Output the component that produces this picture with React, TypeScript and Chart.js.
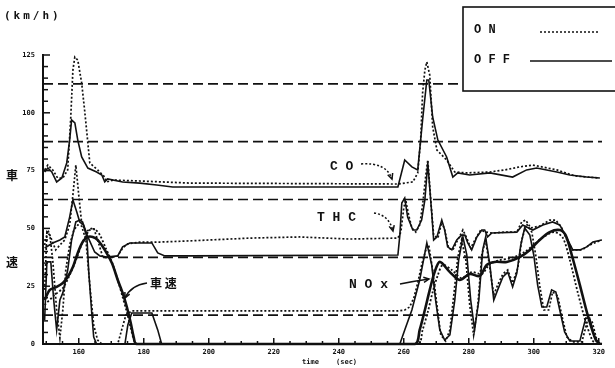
import React, { useEffect, useRef } from 'react';
import { Chart, registerables } from 'chart.js';

Chart.register(...registerables);

type P = [number, number];

// time axis (sec) and speed axis (km/h)
const X_MIN = 149;
const X_MAX = 321;
const Y_MIN = 0;
const Y_MAX = 125;
const xTickLabels = [160, 180, 200, 220, 240, 260, 280, 300, 320];
const yTickLabels = [0, 25, 50, 75, 100, 125];
const referenceLevels = [12.5, 37.5, 62.5, 87.5, 112.5];

// CO
const coOff: P[] = [
  [149.5, 74.4], [150.5, 76.1], [151.7, 74.4], [153.2, 70.1], [154.8, 71.8], [156.3, 78.3],
  [157.2, 88.2], [157.8, 96.9], [158.8, 95.6], [159.7, 88.2], [160.9, 80.9], [162.8, 76.1],
  [165.5, 74.4], [167.1, 73.1], [168.0, 70.1], [168.9, 71.4], [173.5, 70.1], [178.8, 69.6],
  [184.0, 68.8], [188.9, 67.9], [194.2, 67.9], [258.2, 67.9], [260.3, 79.6], [262.5, 76.6],
  [264.3, 75.3], [265.8, 96.9], [267.1, 114.2], [267.7, 114.2], [268.9, 98.2], [270.5, 88.2],
  [273.2, 80.9], [275.1, 72.2], [276.6, 74.0], [280.3, 73.1], [286.5, 74.0], [293.5, 72.2],
  [297.8, 75.3], [300.9, 76.1], [307.1, 74.4], [311.1, 73.1], [316.3, 72.2], [320.3, 71.8],
];
const coOn: P[] = [
  [149.5, 75.3], [150.5, 77.4], [152.0, 75.3], [153.5, 71.8], [155.1, 71.8], [156.6, 75.3],
  [157.5, 96.9], [158.2, 118.5], [158.8, 124.1], [159.7, 122.8], [160.9, 112.9], [161.8, 101.2],
  [162.5, 91.3], [163.4, 78.3], [165.8, 75.3], [168.0, 72.2], [168.6, 70.1], [170.5, 70.9],
  [178.8, 70.5], [194.2, 69.6], [258.2, 69.2], [262.8, 70.1], [264.3, 74.0], [265.2, 88.2],
  [265.8, 108.6], [266.5, 118.5], [267.1, 122.0], [268.0, 116.3], [268.9, 93.9], [270.2, 83.9],
  [273.2, 79.6], [275.7, 74.4], [279.4, 74.0], [286.5, 74.4], [291.1, 75.3], [295.7, 76.6],
  [299.7, 77.4], [307.1, 75.3], [312.6, 72.7], [320.3, 71.8],
];

// THC
const thcOff: P[] = [
  [149.5, 41.5], [152.0, 43.7], [154.2, 45.0], [155.7, 46.3], [157.2, 54.9], [158.2, 62.3],
  [159.4, 57.1], [160.3, 52.8], [161.5, 51.5], [162.8, 46.3], [164.9, 39.8], [166.5, 38.1],
  [168.6, 37.6], [172.0, 38.1], [173.5, 42.0], [175.7, 43.7], [182.5, 43.7], [184.3, 39.4],
  [186.5, 38.1], [194.2, 38.1], [258.2, 38.5], [258.8, 47.1], [259.4, 61.0], [260.3, 63.1],
  [261.2, 54.9], [262.8, 49.3], [264.0, 49.3], [265.5, 53.6], [266.5, 62.3], [267.4, 78.3],
  [268.6, 56.7], [269.2, 45.0], [270.2, 46.3], [271.7, 53.6], [272.6, 49.3], [273.5, 42.0],
  [274.8, 40.7], [276.3, 45.0], [277.8, 47.1], [278.8, 47.1], [279.7, 43.7], [280.9, 40.7],
  [282.5, 46.3], [284.0, 49.3], [284.9, 49.3], [285.8, 46.3], [287.1, 48.0], [294.8, 48.4],
  [296.6, 51.5], [297.8, 50.6], [299.7, 49.3], [302.8, 51.5], [305.8, 52.8], [308.0, 51.5],
  [310.2, 45.8], [312.0, 40.7], [314.2, 40.7], [316.3, 42.0], [318.2, 44.1], [320.9, 45.0],
];
const thcOn: P[] = [
  [149.5, 42.8], [150.5, 49.3], [151.7, 45.0], [152.9, 40.7], [154.2, 42.8], [155.7, 45.0],
  [157.2, 51.5], [158.2, 64.4], [159.1, 77.4], [160.0, 64.4], [160.9, 52.3], [162.2, 48.4],
  [163.4, 49.7], [164.6, 50.2], [165.8, 45.0], [167.4, 37.6], [169.5, 37.2], [172.0, 38.1],
  [173.5, 41.5], [175.1, 43.3], [178.8, 44.1], [184.9, 44.1], [194.2, 44.6], [212.6, 45.8],
  [228.0, 46.3], [243.4, 45.4], [258.2, 45.8], [259.1, 48.4], [260.0, 58.8], [260.6, 62.3],
  [261.5, 55.8], [262.5, 50.2], [263.7, 48.4], [264.9, 51.5], [265.8, 60.1], [266.8, 73.1],
  [267.4, 79.6], [268.3, 62.3], [269.2, 47.1], [270.5, 45.8], [271.7, 52.8], [272.6, 49.3],
  [273.8, 41.5], [275.1, 40.7], [276.6, 45.0], [278.2, 49.3], [279.4, 45.8], [280.6, 41.5],
  [282.2, 45.8], [283.7, 49.3], [285.2, 48.4], [287.1, 48.0], [291.1, 48.4], [294.8, 48.4],
  [296.3, 52.8], [297.5, 53.6], [299.1, 50.2], [301.8, 51.0], [304.9, 53.6], [306.8, 53.6],
  [308.6, 50.2], [310.2, 45.0], [312.0, 40.7], [314.8, 40.7], [317.2, 42.8], [320.9, 45.0],
];

// NOx
const noxOff: P[] = [
  [149.5, 10.4], [150.2, 35.5], [151.4, 35.5], [152.3, 19.0], [153.2, 6.1], [154.2, 19.0],
  [155.1, 22.1], [156.6, 32.0], [157.8, 45.0], [159.1, 52.8], [160.3, 53.6], [161.2, 52.8],
  [162.5, 46.3], [163.1, 30.7], [164.0, 13.4], [164.6, 3.0], [165.5, 0], [174.2, 0],
  [175.1, 8.2], [176.3, 13.4], [182.5, 13.4], [184.3, 6.1], [185.5, 0], [258.8, 0],
  [260.3, 6.1], [262.5, 14.7], [264.9, 27.7], [267.1, 43.7], [268.6, 34.2], [269.8, 19.0],
  [271.1, 6.1], [272.6, 1.7], [274.2, 3.9], [275.7, 19.0], [276.9, 36.3], [278.2, 46.3],
  [279.4, 38.5], [280.6, 19.0], [281.8, 6.1], [283.1, 19.0], [284.3, 40.7], [285.2, 46.3],
  [286.5, 34.2], [287.7, 19.0], [288.9, 23.4], [290.5, 29.0], [292.0, 31.1], [293.5, 24.7],
  [294.8, 30.7], [296.0, 42.8], [297.2, 50.2], [298.8, 47.1], [300.0, 38.5], [301.2, 25.5],
  [302.5, 16.0], [304.0, 16.0], [305.5, 23.4], [306.8, 22.5], [308.0, 14.7], [309.5, 5.2],
  [311.1, 1.3], [314.2, 1.3], [316.0, 11.2], [317.2, 11.2], [318.8, 2.6], [320.3, 0],
];
const noxOn: P[] = [
  [149.5, 23.4], [150.2, 48.4], [151.1, 47.1], [152.0, 36.3], [153.2, 14.7], [154.2, 2.6],
  [155.1, 14.7], [156.0, 32.0], [157.2, 42.8], [158.5, 49.3], [159.7, 51.5], [160.9, 51.0],
  [162.2, 45.0], [163.4, 25.5], [164.6, 8.2], [165.8, 1.7], [167.1, 0], [172.0, 0],
  [173.2, 6.1], [174.5, 12.5], [176.3, 14.3], [181.8, 14.3], [212.6, 14.3], [258.2, 14.3],
  [260.3, 14.7], [261.8, 16.0], [263.1, 19.9], [264.3, 26.4], [265.5, 34.2], [266.8, 40.7],
  [267.7, 42.8], [268.9, 32.0], [270.2, 16.9], [271.4, 3.9], [272.9, 1.3], [274.2, 6.1],
  [275.4, 21.2], [276.6, 37.2], [277.8, 45.0], [279.1, 36.3], [280.3, 16.9], [281.5, 3.9],
  [282.8, 16.9], [284.0, 38.5], [285.2, 45.0], [286.2, 35.5], [287.7, 21.2], [288.9, 25.5],
  [290.5, 30.3], [292.0, 32.0], [293.5, 26.4], [295.1, 32.9], [296.3, 45.0], [297.8, 51.9],
  [299.4, 48.4], [300.6, 38.5], [301.8, 25.5], [303.1, 14.7], [304.6, 14.7], [305.8, 22.5],
  [307.4, 20.8], [308.6, 12.5], [310.2, 3.0], [312.0, 0.9], [314.8, 0.9], [316.6, 10.4],
  [318.0, 9.5], [319.4, 1.7], [320.9, 0],
];

// vehicle speed 車速 (km/h)
const speedOff: P[] = [
  [149.5, 19.0], [151.1, 23.4], [153.2, 24.7], [155.1, 26.4], [156.6, 29.0], [158.2, 33.3],
  [159.7, 39.4], [161.2, 44.1], [162.8, 46.3], [164.3, 46.3], [165.8, 45.0], [168.0, 40.7],
  [170.2, 35.0], [172.0, 27.7], [173.5, 22.1], [174.8, 16.0], [176.0, 9.1], [176.9, 3.0],
  [177.8, 0], [263.4, 0], [264.9, 6.1], [266.5, 14.7], [268.0, 23.4], [269.5, 31.1],
  [271.1, 35.5], [274.2, 31.1], [277.2, 27.7], [280.3, 30.3], [283.4, 29.4], [285.5, 34.2],
  [288.0, 35.5], [291.7, 35.5], [295.7, 37.6], [298.8, 40.7], [301.8, 45.0], [304.9, 48.4],
  [308.0, 49.3], [309.8, 47.1], [311.7, 38.5], [314.2, 25.5], [316.6, 12.5], [319.1, 1.7],
  [320.3, 0],
];
const speedOn: P[] = [
  [149.5, 16.9], [152.6, 21.2], [155.1, 24.2], [157.2, 29.8], [159.4, 37.2], [161.2, 44.1],
  [163.4, 49.3], [164.9, 49.7], [166.5, 47.1], [168.3, 41.5], [170.2, 35.5], [172.0, 27.7],
  [173.5, 20.3], [174.8, 13.8], [176.0, 6.9], [177.2, 0.9], [178.2, 0], [264.3, 0],
  [265.8, 6.1], [267.4, 13.8], [268.9, 22.5], [270.5, 29.8], [272.0, 34.2], [274.8, 32.0],
  [277.8, 28.5], [280.9, 31.1], [284.0, 30.3], [286.5, 34.6], [289.5, 36.3], [293.2, 37.2],
  [297.2, 39.8], [300.3, 43.3], [303.4, 46.7], [306.5, 48.4], [309.0, 45.8], [311.1, 36.3],
  [313.5, 22.5], [316.0, 9.5], [318.0, 1.7], [319.1, 0],
];

const INK = '#111111';
const MONO = "'DejaVu Sans Mono', monospace";
const SERIF_MONO = "'Liberation Mono', 'DejaVu Sans Mono', monospace";
const CJK = "'Noto Sans CJK JP', sans-serif";

const toXY = (pts: P[]) => pts.map(([x, y]) => ({ x, y }));

function series(pts: P[], on: boolean, width: number, tension = 0) {
  return {
    data: toXY(pts),
    borderColor: INK,
    borderWidth: width,
    borderDash: on ? [2, 2] : [],
    pointRadius: 0,
    tension,
    fill: false,
    clip: false as any,
  };
}

function arrowHead(ctx: CanvasRenderingContext2D, x: number, y: number, ang: number, size = 6) {
  ctx.save();
  ctx.setLineDash([]);
  ctx.beginPath();
  ctx.moveTo(x - size * Math.cos(ang - 0.45), y - size * Math.sin(ang - 0.45));
  ctx.lineTo(x, y);
  ctx.lineTo(x - size * Math.cos(ang + 0.45), y - size * Math.sin(ang + 0.45));
  ctx.stroke();
  ctx.restore();
}

function curvedArrow(ctx: CanvasRenderingContext2D, x0: number, y0: number, cx: number, cy: number, x1: number, y1: number, dotted: boolean) {
  ctx.save();
  ctx.setLineDash(dotted ? [2, 2] : []);
  ctx.beginPath();
  ctx.moveTo(x0, y0);
  ctx.quadraticCurveTo(cx, cy, x1, y1);
  ctx.stroke();
  ctx.restore();
  arrowHead(ctx, x1, y1, Math.atan2(y1 - cy, x1 - cx));
}

const decorPlugin = {
  id: 'decor',
  afterDatasetsDraw(chart: any) {
    const { ctx, chartArea, scales } = chart;
    const x = scales.x;
    const y = scales.y;
    ctx.save();
    ctx.strokeStyle = INK;
    ctx.fillStyle = INK;
    ctx.lineWidth = 1.5;
    ctx.setLineDash([]);
    // inward tick marks
    x.ticks.forEach((t: any) => {
      const px = x.getPixelForValue(t.value);
      const len = t.value % 20 === 0 ? 6 : 3;
      ctx.beginPath();
      ctx.moveTo(px, chartArea.bottom);
      ctx.lineTo(px, chartArea.bottom - len);
      ctx.stroke();
    });
    y.ticks.forEach((t: any) => {
      const py = y.getPixelForValue(t.value);
      const len = t.value % 25 === 0 ? 7 : 5;
      ctx.beginPath();
      ctx.moveTo(chartArea.left, py);
      ctx.lineTo(chartArea.left + len, py);
      ctx.stroke();
    });

    // axis captions
    ctx.textBaseline = 'middle';
    ctx.textAlign = 'left';
    ctx.font = `bold 11px ${MONO}`;
    (ctx as any).letterSpacing = '3px';
    ctx.fillText('(km/h)', 4, 16);
    (ctx as any).letterSpacing = '0px';
    ctx.font = `bold 12px ${CJK}`;
    ctx.fillText('車', 6, 175);
    ctx.fillText('速', 6, 262);
    ctx.font = `bold 7px ${MONO}`;
    ctx.fillText('time', 302, 362);
    ctx.fillText('(sec)', 336, 362);

    // curve labels
    ctx.font = `bold 13px ${SERIF_MONO}`;
    ctx.fillText('C O', 330, 167);
    ctx.fillText('T H C', 317, 218);
    ctx.fillText('N O x', 349, 285);
    ctx.font = `bold 12px ${CJK}`;
    ctx.fillText('車 速', 150, 283);

    ctx.lineWidth = 1.5;
    curvedArrow(ctx, 361, 164, 386, 162, 392, 179, true);
    curvedArrow(ctx, 374, 213, 389, 215, 393, 231, true);
    curvedArrow(ctx, 400, 284, 415, 281, 429, 279, false);
    curvedArrow(ctx, 147, 283, 131, 285, 125, 298, false);

    // legend box
    ctx.fillStyle = '#fff';
    ctx.fillRect(463, 7, 160, 84);
    ctx.strokeStyle = INK;
    ctx.lineWidth = 1.6;
    ctx.strokeRect(463, 7, 160, 84);
    ctx.fillStyle = INK;
    ctx.font = `bold 12px ${SERIF_MONO}`;
    ctx.fillText('O N', 474, 30);
    ctx.fillText('O F F', 474, 60);
    ctx.lineWidth = 1.3;
    ctx.setLineDash([2, 2]);
    ctx.beginPath();
    ctx.moveTo(540, 32);
    ctx.lineTo(600, 32);
    ctx.stroke();
    ctx.setLineDash([]);
    ctx.beginPath();
    ctx.moveTo(530, 61);
    ctx.lineTo(612, 61);
    ctx.stroke();
    ctx.restore();
  },
};

export default function App() {
  const ref = useRef<HTMLCanvasElement | null>(null);

  useEffect(() => {
    if (!ref.current) return;
    const refSets = referenceLevels.map((lv) => ({
      data: [{ x: X_MIN, y: lv }, { x: X_MAX, y: lv }],
      borderColor: INK,
      borderWidth: 1.7,
      borderDash: [10, 5],
      pointRadius: 0,
      fill: false,
    }));
    const chart = new Chart(ref.current, {
      type: 'line',
      data: {
        datasets: [
          ...refSets,
          series(coOff, false, 1.6),
          series(coOn, true, 1.7),
          series(thcOff, false, 1.6),
          series(thcOn, true, 1.7),
          series(noxOff, false, 1.6),
          series(noxOn, true, 1.7),
          series(speedOff, false, 2.6, 0.3),
          series(speedOn, true, 1.8, 0.3),
        ] as any,
      },
      options: {
        responsive: false,
        maintainAspectRatio: false,
        animation: false,
        devicePixelRatio: 1,
        layout: { padding: { top: 55, right: 13, left: 0, bottom: 0 } },
        plugins: { legend: { display: false }, tooltip: { enabled: false } },
        scales: {
          x: {
            type: 'linear',
            min: X_MIN,
            max: X_MAX,
            afterBuildTicks: (s: any) => {
              const vals: number[] = [];
              for (let v = 150; v <= 320; v += 5) vals.push(v);
              s.ticks = vals.map((value) => ({ value }));
            },
            afterFit: (s: any) => { s.height = 24; },
            grid: { drawOnChartArea: false, drawTicks: false, color: 'rgba(0,0,0,0)', lineWidth: 0 },
            border: { display: true, color: INK, width: 2 },
            ticks: {
              autoSkip: false,
              maxRotation: 0,
              padding: 4,
              color: INK,
              font: { family: MONO, size: 7, weight: 'bold' },
              callback: (v: any) => (xTickLabels.includes(Number(v)) ? String(v) : ''),
            },
          },
          y: {
            type: 'linear',
            min: Y_MIN,
            max: Y_MAX,
            afterBuildTicks: (s: any) => {
              const vals: number[] = [];
              for (let v = 0; v <= 125; v += 5) vals.push(v);
              s.ticks = vals.map((value) => ({ value }));
            },
            afterFit: (s: any) => { s.width = 43; },
            grid: { drawOnChartArea: false, drawTicks: false, color: 'rgba(0,0,0,0)', lineWidth: 0 },
            border: { display: true, color: INK, width: 2 },
            ticks: {
              autoSkip: false,
              padding: 8,
              color: INK,
              font: { family: MONO, size: 7, weight: 'bold' },
              callback: (v: any) => (yTickLabels.includes(Number(v)) ? String(v) : ''),
            },
          },
        },
      } as any,
      plugins: [decorPlugin],
    });
    return () => chart.destroy();
  }, []);

  return (
    <div style={{ position: 'fixed', left: 0, top: 0, width: 615, height: 368, background: '#fff' }}>
      <canvas ref={ref} width={615} height={368} style={{ display: 'block' }} />
    </div>
  );
}
